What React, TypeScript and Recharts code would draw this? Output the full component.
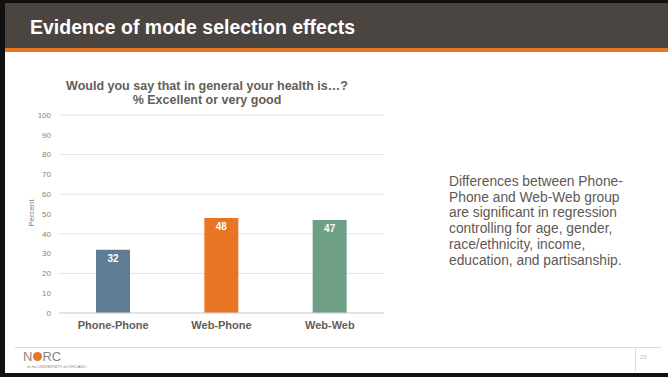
import React from 'react';
import { BarChart, Bar, XAxis, YAxis, CartesianGrid, LabelList, Cell } from 'recharts';

const groups = ['Phone-Phone', 'Web-Phone', 'Web-Web'];
const excellentPct = [32, 48, 47];
const barColors = ['#5e7c94', '#e87524', '#6fa087'];
const yTicks = [0, 10, 20, 30, 40, 50, 60, 70, 80, 90, 100];

const data = groups.map((g, i) => ({ group: g, value: excellentPct[i] }));

const FONT = '"Liberation Sans", Arial, sans-serif';
const TEXT_GRAY = '#655d57';

export default function App() {
  return (
    <div
      style={{
        position: 'absolute',
        left: 0,
        top: 0,
        width: 668,
        height: 377,
        background: '#ffffff',
        overflow: 'hidden',
        fontFamily: FONT,
      }}
    >
      {/* slide frame */}
      <div style={{ position: 'absolute', left: 0, top: 0, width: 668, height: 3, background: '#111' }} />
      <div style={{ position: 'absolute', left: 0, top: 0, width: 5, height: 377, background: '#111' }} />
      <div style={{ position: 'absolute', left: 0, top: 373, width: 668, height: 4, background: '#111' }} />

      {/* header band */}
      <div style={{ position: 'absolute', left: 5, top: 3, width: 663, height: 45, background: '#4b4541' }} />
      <div style={{ position: 'absolute', left: 5, top: 48, width: 663, height: 4, background: '#e87524' }} />
      <div
        style={{
          position: 'absolute',
          left: 30,
          top: 15,
          color: '#ffffff',
          fontSize: 19.5,
          fontWeight: 'bold',
          lineHeight: '24px',
          whiteSpace: 'nowrap',
        }}
      >
        Evidence of mode selection effects
      </div>

      {/* chart title */}
      <div
        style={{
          position: 'absolute',
          left: 4,
          top: 79,
          width: 406,
          textAlign: 'center',
          color: TEXT_GRAY,
          fontSize: 12.5,
          fontWeight: 'bold',
          lineHeight: '14px',
          whiteSpace: 'nowrap',
        }}
      >
        Would you say that in general your health is…?
        <br />% Excellent or very good
      </div>

      {/* y-axis title */}
      <div
        style={{
          position: 'absolute',
          left: 31,
          top: 213,
          transform: 'translate(-50%, -50%) rotate(-90deg)',
          color: '#8a827c',
          fontSize: 8,
          whiteSpace: 'nowrap',
        }}
      >
        Percent
      </div>

      <div style={{ position: 'absolute', left: 0, top: 100 }}>
        <BarChart
          width={400}
          height={240}
          data={data}
          margin={{ top: 15, right: 16, bottom: 0, left: 0 }}
        >
          <CartesianGrid vertical={false} stroke="#e4e4e4" strokeWidth={1} />
          <XAxis
            dataKey="group"
            height={27}
            tickLine={false}
            axisLine={{ stroke: '#d6d6d6' }}
            tick={{ fill: TEXT_GRAY, fontSize: 11, fontWeight: 'bold', fontFamily: FONT }}
            interval={0}
          />
          <YAxis
            width={59}
            domain={[0, 100]}
            ticks={yTicks}
            tickLine={false}
            axisLine={false}
            tick={{ fill: '#8a827c', fontSize: 8, fontFamily: FONT }}
          />
          <Bar dataKey="value" barSize={34} isAnimationActive={false}>
            {data.map((d, i) => (
              <Cell key={d.group} fill={barColors[i]} />
            ))}
            <LabelList
              dataKey="value"
              position="insideTop"
              offset={5}
              fill="#ffffff"
              style={{ fontSize: 10, fontWeight: 'bold', fontFamily: FONT }}
            />
          </Bar>
        </BarChart>
      </div>

      {/* side note */}
      <div
        style={{
          position: 'absolute',
          left: 449,
          top: 174,
          width: 215,
          color: '#5f5853',
          fontSize: 13.8,
          lineHeight: '15.7px',
          whiteSpace: 'nowrap',
        }}
      >
        Differences between Phone-
        <br />
        Phone and Web-Web group
        <br />
        are significant in regression
        <br />
        controlling for age, gender,
        <br />
        race/ethnicity, income,
        <br />
        education, and partisanship.
      </div>

      {/* footer */}
      <div style={{ position: 'absolute', left: 15, top: 347, width: 646, height: 1, background: '#dcdcdc' }} />
      <div style={{ position: 'absolute', left: 635, top: 347, width: 1, height: 24, background: '#dcdcdc' }} />
      <div style={{ position: 'absolute', left: 640, top: 354, fontSize: 6, color: '#c0c0c0' }}>29</div>
      <div
        style={{
          position: 'absolute',
          left: 23,
          top: 350,
          fontSize: 13,
          lineHeight: '13px',
          color: '#8b8580',
          whiteSpace: 'nowrap',
        }}
      >
        N
        <span
          style={{
            display: 'inline-block',
            width: 9,
            height: 9,
            borderRadius: '50%',
            background: '#e87524',
            margin: '0 0.5px',
          }}
        />
        RC
      </div>
      <div
        style={{
          position: 'absolute',
          left: 27,
          top: 364,
          fontSize: 4,
          color: '#8b8580',
          whiteSpace: 'nowrap',
        }}
      >
        at the UNIVERSITY of CHICAGO
      </div>
    </div>
  );
}
